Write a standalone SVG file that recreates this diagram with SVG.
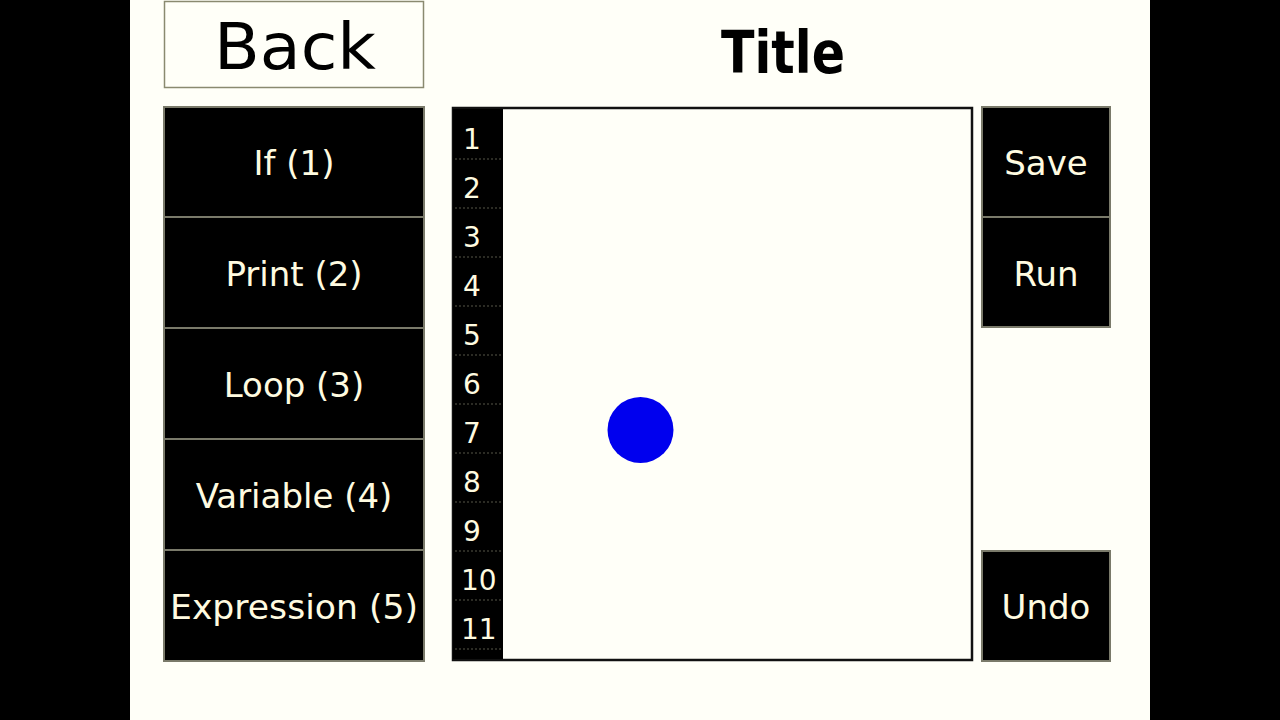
<svg xmlns="http://www.w3.org/2000/svg" width="1280" height="720" viewBox="0 0 1280 720">
<style>
.btn{fill:#000;stroke:#7a7a6a;stroke-width:2}
.bt{font-family:"DejaVu Sans","Liberation Sans",sans-serif;font-size:34px;fill:#fffbe0;text-anchor:middle;dominant-baseline:central}
.ln{font-family:"DejaVu Sans","Liberation Sans",sans-serif;font-size:28px;fill:#fffbe0}
.sep{stroke:#3a3a30;stroke-width:1.5;stroke-dasharray:2 2}
</style>
<rect x="0" y="0" width="1280" height="720" fill="#000"/>
<rect x="130" y="0" width="1020" height="720" fill="#fffff8"/>
<g id="back">
<rect x="164.5" y="1.5" width="259" height="86" fill="#fffff8" stroke="#8a8a70" stroke-width="1.5"/>
<text x="295" y="47" font-family="DejaVu Sans,Liberation Sans,sans-serif" font-size="64" fill="#000" text-anchor="middle" dominant-baseline="central" textLength="162" lengthAdjust="spacingAndGlyphs">Back</text>
</g>
<g id="title">
<text x="783" y="53" font-family="DejaVu Sans,Liberation Sans,sans-serif" font-size="58" font-weight="bold" fill="#000" text-anchor="middle" dominant-baseline="central" textLength="124" lengthAdjust="spacingAndGlyphs">Title</text>
</g>
<g id="if"><rect class="btn" x="164" y="107" width="260" height="110"/><text class="bt" x="294" y="163">If (1)</text></g>
<g id="print"><rect class="btn" x="164" y="217" width="260" height="111"/><text class="bt" x="294" y="274">Print (2)</text></g>
<g id="loop"><rect class="btn" x="164" y="328" width="260" height="111"/><text class="bt" x="294" y="385">Loop (3)</text></g>
<g id="variable"><rect class="btn" x="164" y="439" width="260" height="111"/><text class="bt" x="294" y="496">Variable (4)</text></g>
<g id="expression"><rect class="btn" x="164" y="550" width="260" height="111"/><text class="bt" x="294" y="607" textLength="248" lengthAdjust="spacingAndGlyphs">Expression (5)</text></g>
<g id="editor">
<rect x="453" y="108" width="519" height="552" fill="#fffff8" stroke="#111" stroke-width="2.5"/>
<rect x="453" y="109" width="50" height="550" fill="#000"/>
<g class="sep">
<line x1="455" y1="159" x2="502" y2="159"/><line x1="455" y1="208" x2="502" y2="208"/><line x1="455" y1="257" x2="502" y2="257"/><line x1="455" y1="306" x2="502" y2="306"/><line x1="455" y1="355" x2="502" y2="355"/><line x1="455" y1="404" x2="502" y2="404"/><line x1="455" y1="453" x2="502" y2="453"/><line x1="455" y1="502" x2="502" y2="502"/><line x1="455" y1="551" x2="502" y2="551"/><line x1="455" y1="600" x2="502" y2="600"/><line x1="455" y1="649" x2="502" y2="649"/>
</g>
<text class="ln" x="463" y="149">1</text>
<text class="ln" x="463" y="198">2</text>
<text class="ln" x="463" y="247">3</text>
<text class="ln" x="463" y="296">4</text>
<text class="ln" x="463" y="345">5</text>
<text class="ln" x="463" y="394">6</text>
<text class="ln" x="463" y="443">7</text>
<text class="ln" x="463" y="492">8</text>
<text class="ln" x="463" y="541">9</text>
<text class="ln" x="461" y="590">10</text>
<text class="ln" x="461" y="639">11</text>
<circle cx="640.5" cy="430" r="33" fill="#0000ee"/>
</g>
<g id="save"><rect class="btn" x="982" y="107" width="128" height="110"/><text class="bt" x="1046" y="163">Save</text></g>
<g id="run"><rect class="btn" x="982" y="217" width="128" height="110"/><text class="bt" x="1046" y="274">Run</text></g>
<g id="undo"><rect class="btn" x="982" y="551" width="128" height="110"/><text class="bt" x="1046" y="607">Undo</text></g>
</svg>
